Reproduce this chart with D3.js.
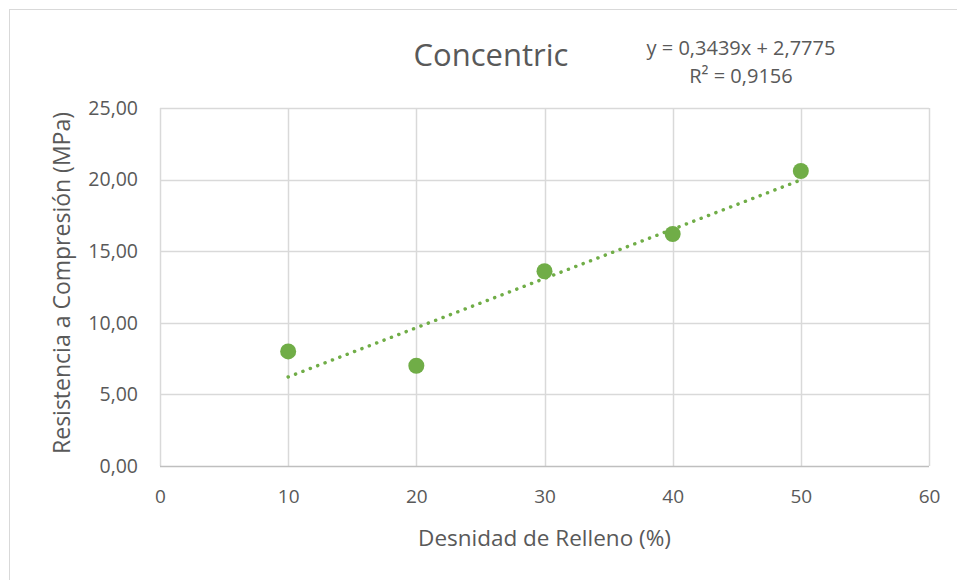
<!DOCTYPE html>
<html>
<head>
<meta charset="utf-8">
<script src="https://cdn.jsdelivr.net/npm/d3@7"></script>
<style>
  body { margin: 0; background: #fff; }
  svg text { font-family: "Open Sans", "Liberation Sans", sans-serif; fill: #595959; }
</style>
</head>
<body>
<svg id="chart" width="957" height="580"></svg>
<script>
// data
var densidad = [10, 20, 30, 40, 50];
var resistencia = [8.0, 7.0, 13.6, 16.2, 20.6];
var xTicks = [0, 10, 20, 30, 40, 50, 60];
var yTicks = [0, 5, 10, 15, 20, 25];
var trendSlope = 0.3439;
var trendIntercept = 2.7775;
var eqLines = ["y = 0,3439x + 2,7775", "R² = 0,9156"];

var svg = d3.select("#chart"),
    width = +svg.attr("width"),
    height = +svg.attr("height");

var margin = { left: 160, right: 28, top: 108, bottom: 114 };

// outer chart frame
svg.append("rect")
    .attr("x", 9.5).attr("y", 9.5)
    .attr("width", width + 20).attr("height", height + 20)
    .attr("fill", "none")
    .attr("stroke", "#d9d9d9");

var x = d3.scaleLinear().domain([0, 60]).range([margin.left, width - margin.right]);
var y = d3.scaleLinear().domain([0, 25]).range([height - margin.bottom, margin.top]);

var fmt = function (d) { return d3.format(".2f")(d).replace(".", ","); };

// gridlines
svg.append("g").selectAll("line.v")
    .data(xTicks)
    .enter().append("line")
    .attr("x1", function (d) { return Math.round(x(d)) + 0.5; })
    .attr("x2", function (d) { return Math.round(x(d)) + 0.5; })
    .attr("y1", y(25)).attr("y2", y(0))
    .attr("stroke", "#d9d9d9").attr("stroke-width", 1.5);

svg.append("g").selectAll("line.h")
    .data(yTicks)
    .enter().append("line")
    .attr("x1", x(0)).attr("x2", x(60))
    .attr("y1", function (d) { return Math.round(y(d)) + 0.5; })
    .attr("y2", function (d) { return Math.round(y(d)) + 0.5; })
    .attr("stroke", function (d) { return d === 0 ? "#bfbfbf" : "#d9d9d9"; })
    .attr("stroke-width", 1.5);

// axes (labels only)
var xAxis = svg.append("g")
    .attr("transform", "translate(0," + (y(0) + 14) + ")")
    .call(d3.axisBottom(x).tickValues(xTicks).tickSize(0).tickPadding(10));
xAxis.select(".domain").remove();
xAxis.selectAll("text").style("font-size", "19px").attr("fill", "#595959");

var yAxis = svg.append("g")
    .attr("transform", "translate(" + (x(0) - 22) + ",0)")
    .call(d3.axisLeft(y).tickValues(yTicks).tickFormat(fmt).tickSize(0).tickPadding(0));
yAxis.select(".domain").remove();
yAxis.selectAll("text").style("font-size", "19.5px").attr("fill", "#595959");

// trendline
var trend = d3.line()
    .x(function (d) { return x(d); })
    .y(function (d) { return y(trendSlope * d + trendIntercept); });

svg.append("path")
    .datum([d3.min(densidad), d3.max(densidad)])
    .attr("d", trend)
    .attr("fill", "none")
    .attr("stroke", "#70ad47")
    .attr("stroke-width", 3.5)
    .attr("stroke-linecap", "round")
    .attr("stroke-dasharray", "0.1 7.8");

// points
svg.append("g").selectAll("circle")
    .data(densidad)
    .enter().append("circle")
    .attr("cx", function (d) { return x(d); })
    .attr("cy", function (d, i) { return y(resistencia[i]); })
    .attr("r", 8)
    .attr("fill", "#70ad47");

// title
svg.append("text")
    .attr("x", 491).attr("y", 66)
    .attr("text-anchor", "middle")
    .style("font-size", "31px")
    .text("Concentric");

// equation
svg.append("g").selectAll("text")
    .data(eqLines)
    .enter().append("text")
    .attr("x", 741)
    .attr("y", function (d, i) { return 55 + i * 28; })
    .attr("text-anchor", "middle")
    .style("font-size", "20px")
    .text(function (d) { return d; });

// axis titles
svg.append("text")
    .attr("x", (x(0) + x(60)) / 2).attr("y", 546)
    .attr("text-anchor", "middle")
    .style("font-size", "22.5px")
    .text("Desnidad de Relleno (%)");

svg.append("text")
    .attr("transform", "translate(70," + (y(12.5) - 4) + ") rotate(-90)")
    .attr("text-anchor", "middle")
    .style("font-size", "23px")
    .text("Resistencia a Compresión (MPa)");
</script>
</body>
</html>
